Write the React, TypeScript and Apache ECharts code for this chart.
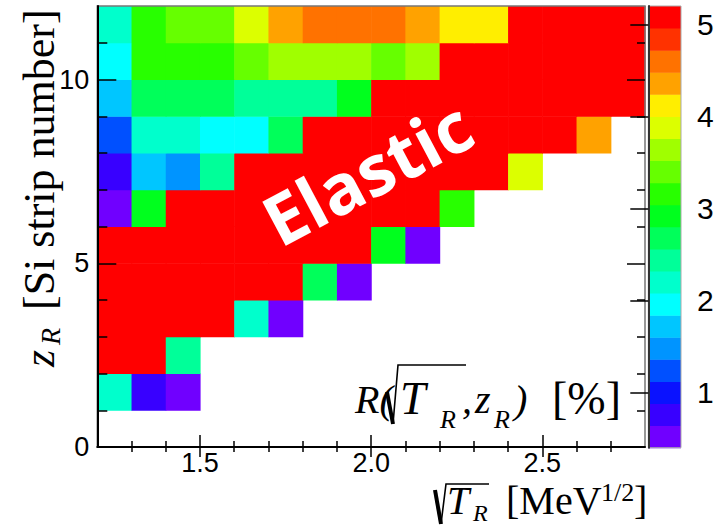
import React, { useEffect, useRef } from "react";
import * as echarts from "echarts";

// ---- data -------------------------------------------------------------
// lower edges of the sqrt(T_R) bins (width 0.1)
const xBinLow = [1.2, 1.3, 1.4, 1.5, 1.6, 1.7, 1.8, 1.9, 2.0, 2.1, 2.2, 2.3, 2.4, 2.5, 2.6, 2.7];
const xBinWidth = 0.1;
// lower edges of the z_R (strip) bins (width 1)
const zBinLow = [1, 2, 3, 4, 5, 6, 7, 8, 9, 10, 11];
const zBinWidth = 1;

// R(sqrt(T_R), z_R) in %, one array per strip row; 5.1 = saturated (red), null = empty
const row1 = [2.2, 0.76, 0.52, null, null, null, null, null, null, null, null, null, null, null, null, null];
const row2 = [5.1, 5.1, 2.44, null, null, null, null, null, null, null, null, null, null, null, null, null];
const row3 = [5.1, 5.1, 5.1, 5.1, 2.2, 0.52, null, null, null, null, null, null, null, null, null, null];
const row4 = [5.1, 5.1, 5.1, 5.1, 5.1, 5.1, 2.68, 0.52, null, null, null, null, null, null, null, null];
const row5 = [5.1, 5.1, 5.1, 5.1, 5.1, 5.1, 5.1, 5.1, 2.92, 0.52, null, null, null, null, null, null];
const row6 = [0.52, 2.92, 5.1, 5.1, 5.1, 5.1, 5.1, 5.1, 5.1, 5.1, 3.16, null, null, null, null, null];
const row7 = [0.76, 1.72, 1.48, 2.44, 5.1, 5.1, 5.1, 5.1, 5.1, 5.1, 5.1, 5.1, 3.88, null, null, null];
const row8 = [1.24, 2.2, 2.2, 1.96, 1.96, 2.68, 5.1, 5.1, 5.1, 5.1, 5.1, 5.1, 5.1, 5.1, 4.36, null];
const row9 = [1.72, 2.68, 2.68, 2.68, 2.44, 2.44, 2.44, 2.92, 5.1, 5.1, 5.1, 5.1, 5.1, 5.1, 5.1, 5.1];
const row10 = [1.96, 3.16, 3.16, 3.16, 3.4, 3.64, 3.64, 3.64, 3.4, 3.64, 5.1, 5.1, 5.1, 5.1, 5.1, 5.1];
const row11 = [2.2, 3.16, 3.4, 3.4, 3.88, 4.36, 4.6, 4.6, 4.6, 4.36, 4.12, 4.12, 5.1, 5.1, 5.1, 5.1];
const rows = [row1, row2, row3, row4, row5, row6, row7, row8, row9, row10, row11];

// axis ticks / labels
const xMin = 1.2;
const xMax = 2.8;
const xMajor = [1.5, 2.0, 2.5];
const xMinor = [1.3, 1.4, 1.6, 1.7, 1.8, 1.9, 2.1, 2.2, 2.3, 2.4, 2.6, 2.7];
const yMin = 0;
const yMax = 12;
const yMajor = [0, 5, 10];
const yMinor = [1, 2, 3, 4, 6, 7, 8, 9, 11];

// colour scale
const cbMin = 0.4;
const cbMax = 5.2;
const cbTicks = [1, 2, 3, 4, 5];
const palette = [
  "#7000ff", "#3800ff", "#0a12ff", "#0050ff", "#0094ff",
  "#00c6ff", "#00ffff", "#00ffcc", "#00ff99", "#00ff5a",
  "#00ff1e", "#28ff00", "#66ff00", "#a0ff00", "#dcff00",
  "#ffee00", "#ffa200", "#ff7200", "#ff3200", "#ff0000",
];

const colorFor = (v: number) => {
  const step = (cbMax - cbMin) / palette.length;
  let k = Math.floor((v - cbMin) / step);
  if (k < 0) k = 0;
  if (k > palette.length - 1) k = palette.length - 1;
  return palette[k];
};

const SERIF = '"Liberation Serif", "Times New Roman", serif';
const SANS = '"Liberation Sans", Arial, sans-serif';

const txt = (text: string, x: number, y: number, size: number, italic: boolean) => ({
  type: "text", x, y, z: 100,
  style: {
    text, fill: "#000", fontSize: size, fontStyle: italic ? "italic" : "normal", fontFamily: SERIF,
    textAlign: "left", textVerticalAlign: "middle", verticalAlign: "middle",
  },
});

export default function App() {
  const ref = useRef<HTMLDivElement>(null);

  useEffect(() => {
    document.body.style.margin = "0";
    const chart = echarts.init(ref.current!, null, { renderer: "svg", width: 722, height: 528 });

    const cells: number[][] = [];
    rows.forEach((row, i) => {
      row.forEach((v, j) => {
        if (v !== null && v !== undefined) cells.push([xBinLow[j], zBinLow[i], v as number]);
      });
    });

    const step = (cbMax - cbMin) / palette.length;
    const bands = palette.map((_, i) => [cbMin + i * step, cbMin + (i + 1) * step, i]);

    const tickStyle = { color: "#000", width: 1.5 };

    const option: any = {
      animation: false,
      backgroundColor: "#fff",
      grid: [
        { left: 97.3, top: 6, width: 547.7, height: 441, show: true, borderColor: "#777", borderWidth: 1.5, backgroundColor: "transparent", z: 20 },
        { left: 648.3, top: 6, width: 32.7, height: 441.7, show: true, borderColor: "#aaa", borderWidth: 1, backgroundColor: "transparent", z: 20 },
      ],
      xAxis: [
        {
          gridIndex: 0, type: "value", min: xMin, max: xMax, position: "bottom", z: 30,
          axisLine: { show: true, lineStyle: { color: "#000", width: 2 } },
          axisTick: { show: true, inside: true, length: 12, customValues: xMajor, lineStyle: tickStyle },
          axisLabel: { show: true, customValues: xMajor, formatter: (v: number) => v.toFixed(1), fontSize: 27, fontFamily: SANS, color: "#000", margin: 2 },
          splitLine: { show: false },
        },
        {
          gridIndex: 0, type: "value", min: xMin, max: xMax, position: "bottom", z: 30,
          axisLine: { show: false },
          axisTick: { show: true, inside: true, length: 6, customValues: xMinor, lineStyle: tickStyle },
          axisLabel: { show: false },
          splitLine: { show: false },
        },
        {
          gridIndex: 0, type: "value", min: xMin, max: xMax, position: "top", z: 30,
          axisLine: { show: false },
          axisTick: { show: true, inside: true, length: 10, customValues: xMajor, lineStyle: tickStyle },
          axisLabel: { show: false },
          splitLine: { show: false },
        },
        {
          gridIndex: 0, type: "value", min: xMin, max: xMax, position: "top", z: 30,
          axisLine: { show: false },
          axisTick: { show: true, inside: true, length: 5, customValues: xMinor, lineStyle: tickStyle },
          axisLabel: { show: false },
          splitLine: { show: false },
        },
        { gridIndex: 1, type: "value", min: 0, max: 1, show: false },
      ],
      yAxis: [
        {
          gridIndex: 0, type: "value", min: yMin, max: yMax, position: "left", z: 30,
          axisLine: { show: true, lineStyle: { color: "#000", width: 2 } },
          axisTick: { show: true, inside: true, length: 19, customValues: yMajor, lineStyle: tickStyle },
          axisLabel: { show: true, customValues: yMajor, fontSize: 27, fontFamily: SANS, color: "#000", margin: 8 },
          splitLine: { show: false },
        },
        {
          gridIndex: 0, type: "value", min: yMin, max: yMax, position: "left", z: 30,
          axisLine: { show: false },
          axisTick: { show: true, inside: true, length: 10, customValues: yMinor, lineStyle: tickStyle },
          axisLabel: { show: false },
          splitLine: { show: false },
        },
        {
          gridIndex: 0, type: "value", min: yMin, max: yMax, position: "right", z: 30,
          axisLine: { show: false },
          axisTick: { show: true, inside: true, length: 18, customValues: yMajor, lineStyle: tickStyle },
          axisLabel: { show: false },
          splitLine: { show: false },
        },
        {
          gridIndex: 0, type: "value", min: yMin, max: yMax, position: "right", z: 30,
          axisLine: { show: false },
          axisTick: { show: true, inside: true, length: 8, customValues: yMinor, lineStyle: tickStyle },
          axisLabel: { show: false },
          splitLine: { show: false },
        },
        {
          gridIndex: 1, type: "value", min: cbMin, max: cbMax, position: "right", z: 30,
          axisLine: { show: true, lineStyle: { color: "#333", width: 2 } },
          axisTick: { show: true, inside: true, length: 18, customValues: cbTicks, lineStyle: tickStyle },
          axisLabel: { show: true, customValues: cbTicks, fontSize: 30, fontFamily: SANS, color: "#000", margin: 16 },
          splitLine: { show: false },
        },
      ],
      series: [
        {
          type: "custom",
          xAxisIndex: 0,
          yAxisIndex: 0,
          data: cells,
          encode: { x: 0, y: 1 },
          z: 1,
          renderItem: (params: any, api: any) => {
            const x0 = api.value(0);
            const y0 = api.value(1);
            const v = api.value(2);
            const p0 = api.coord([x0, y0 + zBinWidth]);
            const p1 = api.coord([x0 + xBinWidth, y0]);
            return {
              type: "rect",
              shape: { x: p0[0], y: p0[1], width: p1[0] - p0[0] + 0.6, height: p1[1] - p0[1] + 0.6 },
              style: { fill: colorFor(v), stroke: null },
            };
          },
        },
        {
          type: "custom",
          xAxisIndex: 4,
          yAxisIndex: 4,
          data: bands,
          encode: { y: [0, 1] },
          z: 1,
          renderItem: (params: any, api: any) => {
            const lo = api.value(0);
            const hi = api.value(1);
            const i = api.value(2);
            const p0 = api.coord([0, hi]);
            const p1 = api.coord([1, lo]);
            return {
              type: "rect",
              shape: { x: p0[0], y: p0[1], width: p1[0] - p0[0], height: p1[1] - p0[1] + 0.5 },
              style: { fill: palette[i], stroke: null },
            };
          },
        },
      ],
      graphic: [
        // "Elastic" label
        {
          type: "text", x: 367, y: 172, rotation: (28 * Math.PI) / 180, z: 100,
          style: { text: "Elastic", fill: "#fff", fontSize: 70, fontWeight: "bold", fontFamily: '"Open Sans", "Noto Sans", sans-serif', textAlign: "center", textVerticalAlign: "middle", verticalAlign: "middle" },
        },
        // annotation R(sqrt(T_R), z_R) [%]
        txt("R(", 355, 399, 40, true),
        { type: "line", z: 100, shape: { x1: 387, y1: 392, x2: 393, y2: 424 }, style: { stroke: "#000", lineWidth: 4 } },
        { type: "polyline", z: 100, shape: { points: [[393, 424], [398, 365], [466, 365]] }, style: { stroke: "#000", lineWidth: 1.6, fill: null } },
        txt("T", 400, 398, 46, true),
        txt("R", 440, 419, 26, true),
        txt(",", 462, 399, 40, true),
        txt("z", 475, 399, 40, true),
        txt("R", 494, 419, 26, true),
        txt(")", 514, 399, 40, true),
        txt("[%]", 552, 398, 46, false),
        // x axis title sqrt(T_R) [MeV^1/2]
        { type: "line", z: 100, shape: { x1: 435, y1: 490, x2: 441, y2: 524 }, style: { stroke: "#000", lineWidth: 4 } },
        { type: "polyline", z: 100, shape: { points: [[441, 524], [446, 484], [489, 484]] }, style: { stroke: "#000", lineWidth: 1.6, fill: null } },
        txt("T", 447, 500, 40, true),
        txt("R", 473, 513, 24, true),
        txt("[MeV", 506, 500, 40, false),
        txt("1/2", 601, 492, 26, false),
        txt("]", 634, 500, 40, false),
        // y axis title z_R [Si strip number]
        {
          type: "group", x: 39, y: 367, rotation: Math.PI / 2, z: 100,
          children: [
            txt("z", 0, 0, 44, true),
            txt("R", 22, 11, 28, true),
            txt("[Si strip number]", 57, 0, 44, false),
          ],
        },
      ],
    };

    chart.setOption(option);
    return () => chart.dispose();
  }, []);

  return <div ref={ref} style={{ position: "absolute", left: 0, top: 0, width: 722, height: 528 }} />;
}
